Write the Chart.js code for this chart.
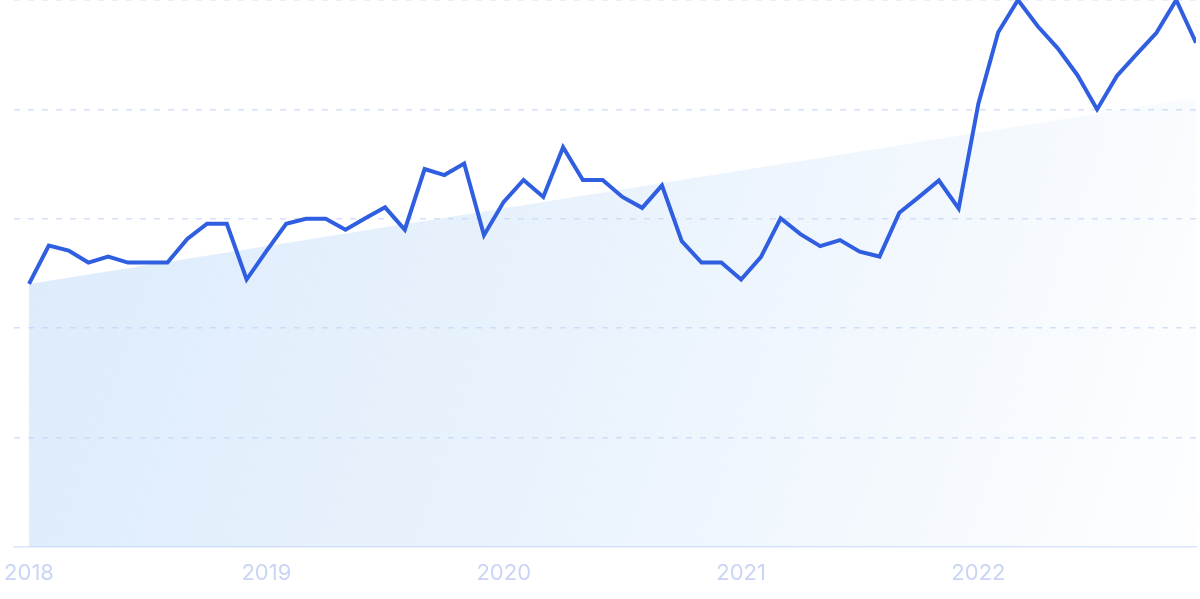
<!DOCTYPE html>
<html>
<head>
<meta charset="utf-8">
<script src="https://cdn.jsdelivr.net/npm/chart.js@4.4.1/dist/chart.umd.min.js"></script>
<style>
  html, body { margin: 0; padding: 0; background: #ffffff; }
  #wrap { width: 1200px; height: 599px; position: relative; }
</style>
</head>
<body>
<div id="wrap"><canvas id="c"></canvas></div>
<script>
// Monthly values, Jan 2018 .. Dec 2022 (relative interest, 0-100)
const months = [
  '2018-01','2018-02','2018-03','2018-04','2018-05','2018-06','2018-07','2018-08','2018-09','2018-10','2018-11','2018-12',
  '2019-01','2019-02','2019-03','2019-04','2019-05','2019-06','2019-07','2019-08','2019-09','2019-10','2019-11','2019-12',
  '2020-01','2020-02','2020-03','2020-04','2020-05','2020-06','2020-07','2020-08','2020-09','2020-10','2020-11','2020-12',
  '2021-01','2021-02','2021-03','2021-04','2021-05','2021-06','2021-07','2021-08','2021-09','2021-10','2021-11','2021-12',
  '2022-01','2022-02','2022-03','2022-04','2022-05','2022-06','2022-07','2022-08','2022-09','2022-10','2022-11','2022-12'
];
const values = [
  48.1, 55.1, 54.2, 52.0, 53.1, 52.0, 52.0, 52.0, 56.3, 59.1, 59.1, 48.9,
  54.1, 59.1, 60.0, 60.0, 58.0, 60.1, 62.1, 58.0, 69.1, 68.0, 70.1, 57.0,
  63.1, 67.1, 64.0, 73.1, 67.1, 67.1, 64.0, 62.0, 66.1, 55.9, 52.0, 52.0,
  48.9, 53.0, 60.1, 57.2, 55.0, 56.1, 54.0, 53.1, 61.1, 64.0, 67.0, 61.9,
  81.1, 94.1, 100, 95.2, 91.2, 86.3, 80.0, 86.1, 90.1, 94.0, 100, 92.2
];
// Trend line: start and end values only (straight line between them)
const trendStart = 48.1;
const trendEnd = 82.1;
const yearTickIndex = [0, 12, 24, 36, 48];
const yearLabels = ['2018', '2019', '2020', '2021', '2022'];

const lineData = values.map((v, i) => ({ x: i, y: v }));
const trendData = [{ x: 0, y: trendStart }, { x: values.length - 1, y: trendEnd }];

const ctx = document.getElementById('c').getContext('2d');
new Chart(ctx, {
  type: 'line',
  data: {
    datasets: [
      {
        label: 'Interest',
        data: lineData,
        borderColor: '#2f5fe0',
        borderWidth: 4,
        pointRadius: 0,
        tension: 0,
        fill: false,
        order: 1
      },
      {
        label: 'Trend',
        data: trendData,
        borderWidth: 0,
        borderColor: 'rgba(0,0,0,0)',
        pointRadius: 0,
        tension: 0,
        fill: 'origin',
        order: 2,
        backgroundColor: (c) => {
          const chart = c.chart;
          const a = chart.chartArea;
          if (!a) return 'rgba(185,215,247,0.4)';
          const g = chart.ctx.createLinearGradient(a.left, a.top + 150, a.right, a.bottom);
          g.addColorStop(0, 'rgba(185,215,247,0.5)');
          g.addColorStop(0.55, 'rgba(185,215,247,0.27)');
          g.addColorStop(1, 'rgba(185,215,247,0.02)');
          return g;
        }
      }
    ]
  },
  options: {
    responsive: true,
    maintainAspectRatio: false,
    animation: false,
    layout: { padding: { left: 14, right: 4, top: 0, bottom: 0 } },
    plugins: { legend: { display: false }, tooltip: { enabled: false } },
    scales: {
      x: {
        type: 'linear',
        min: -0.76,
        max: values.length - 1,
        grid: { display: false, drawTicks: false },
        border: { display: true, color: '#d9e5fa', width: 1.5 },
        afterBuildTicks: (axis) => { axis.ticks = yearTickIndex.map(v => ({ value: v })); },
        afterFit: (axis) => { axis.height = 52; axis.paddingLeft = 0; axis.paddingRight = 0; },
        ticks: {
          autoSkip: false,
          maxRotation: 0,
          padding: 13,
          color: '#c9d5f4',
          font: { family: 'Inter', size: 22 },
          callback: (value) => {
            const k = yearTickIndex.indexOf(value);
            return k >= 0 ? yearLabels[k] : '';
          }
        }
      },
      y: {
        min: 0,
        max: 100,
        ticks: { display: false, stepSize: 20 },
        afterFit: (axis) => { axis.width = 0; },
        border: { display: false, dash: [6, 8] },
        grid: {
          drawTicks: false,
          tickLength: 0,
          lineWidth: 1.5,
          color: (c) => c.tick && c.tick.value === 0 ? 'rgba(0,0,0,0)' : '#d3e2fa'
        }
      }
    }
  }
});
</script>
</body>
</html>
